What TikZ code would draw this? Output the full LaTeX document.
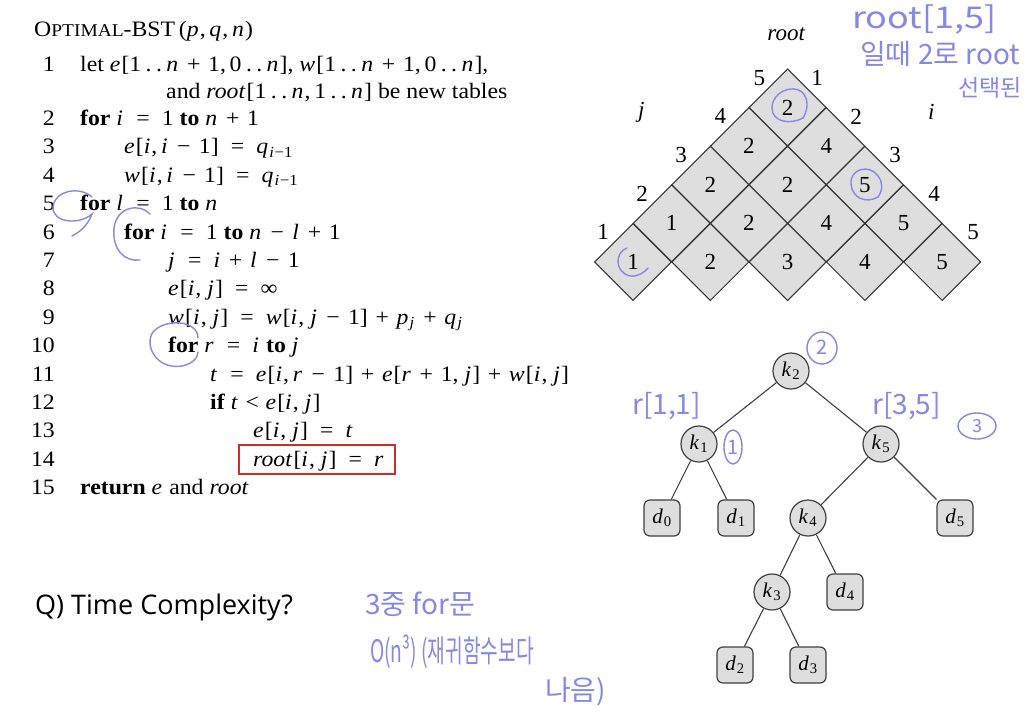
\documentclass[tikz,border=0pt]{standalone}
\usepackage{fontspec}
\setmainfont{Liberation Serif}
\newfontfamily\codefont{Liberation Serif}[FakeStretch=1.08]
\newfontfamily\qfont{Open Sans}
\newfontfamily\kfont{Noto Sans CJK KR}
\usetikzlibrary{shapes.geometric}
\definecolor{pen}{RGB}{135,135,228}
\definecolor{cellgray}{RGB}{222,222,222}
\definecolor{boxred}{RGB}{205,45,45}
\newcommand{\kw}[1]{\textbf{#1}}
\newcommand{\mv}[1]{\textit{#1}\/\kern0.05em\relax}
\newcommand{\dts}{\hspace{0.2em}.\hspace{0.2em}.\hspace{0.2em}}
\newcommand{\eq}{\hspace{0.55em}=\hspace{0.55em}}
\newcommand{\mns}{\hspace{0.38em}−\hspace{0.38em}}
\newcommand{\pls}{\hspace{0.35em}+\hspace{0.35em}}
\newcommand{\cm}{,\hspace{0.17em}}
\tikzset{
  code/.style={anchor=base west, inner sep=0pt, font=\codefont\fontsize{22}{26}\selectfont},
  lnum/.style={anchor=base east, inner sep=0pt, font=\codefont\fontsize{22}{26}\selectfont},
  cell/.style={diamond, draw=black!80, fill=cellgray, line width=1pt, minimum width=77.3pt, minimum height=77.3pt, inner sep=0pt, font=\fontsize{23}{26}\selectfont},
  tlab/.style={inner sep=0pt, font=\fontsize{23}{26}\selectfont},
  knode/.style={circle, draw=black!75, fill=cellgray, line width=1.2pt, minimum size=36pt, inner sep=0pt, font=\fontsize{21}{24}\selectfont},
  dnode/.style={rectangle, rounded corners=6pt, draw=black!75, fill=cellgray, line width=1.2pt, minimum size=36pt, inner sep=0pt, font=\fontsize{21}{24}\selectfont},
  edge/.style={draw=black!75, line width=1.1pt},
  pen/.style={draw=pen, line width=1.4pt, line cap=round},
  hand/.style={text=pen, inner sep=0pt, anchor=base west, font=\kfont\fontsize{28}{30}\selectfont},
}
\begin{document}
\begin{tikzpicture}[x=1pt,y=-1pt]
\useasboundingbox (0,0) rectangle (1031,712);
\fill[white] (0,0) rectangle (1031,712);

% ---------- pseudocode ----------
\node[code] (title) at (34,36) {O{\fontsize{18}{20}\selectfont PTIMAL}-BST\,(\mv{p}\cm\mv{q}\cm\mv{n})};
\node[lnum] (n1) at (55,71.5) {1};
\node[code] (c1) at (80,71.5) {let \mv{e}[1\dts\mv{n}\pls1\cm0\dts\mv{n}], \mv{w}[1\dts\mv{n}\pls1\cm0\dts\mv{n}],};
\node[code] (c1b) at (166,98.5) {and \mv{root}[1\dts\mv{n}\cm1\dts\mv{n}] be new tables};
\node[lnum] (n2) at (55,125.5) {2};
\node[code] (c2) at (80,125.5) {\kw{for} \mv{i}\eq1 \kw{to} \mv{n}\pls1};
\node[lnum] (n3) at (55,153.9) {3};
\node[code] (c3) at (124,153.9) {\mv{e}[\mv{i}\cm\mv{i}\mns1]\eq\mv{q}\textsubscript{\mv{i}−1}};
\node[lnum] (n4) at (55,182.3) {4};
\node[code] (c4) at (124,182.3) {\mv{w}[\mv{i}\cm\mv{i}\mns1]\eq\mv{q}\textsubscript{\mv{i}−1}};
\node[lnum] (n5) at (55,210.7) {5};
\node[code] (c5) at (80,210.7) {\kw{for} \mv{l}\eq1 \kw{to} \mv{n}};
\node[lnum] (n6) at (55,239.1) {6};
\node[code] (c6) at (124,239.1) {\kw{for} \mv{i}\eq1 \kw{to} \mv{n}\mns\mv{l}\pls1};
\node[lnum] (n7) at (55,267.5) {7};
\node[code] (c7) at (168,267.5) {\mv{j}\eq\mv{i}\pls\mv{l}\mns1};
\node[lnum] (n8) at (55,295.9) {8};
\node[code] (c8) at (168,295.9) {\mv{e}[\mv{i}, \mv{j}]\eq∞};
\node[lnum] (n9) at (55,324.3) {9};
\node[code] (c9) at (168,324.3) {\mv{w}[\mv{i}, \mv{j}]\eq\mv{w}[\mv{i}, \mv{j}\mns1]\pls\mv{p}\textsubscript{\mv{j}}\pls\mv{q}\textsubscript{\mv{j}}};
\node[lnum] (n10) at (55,352.7) {10};
\node[code] (c10) at (168,352.7) {\kw{for} \mv{r}\eq\mv{i} \kw{to} \mv{j}};
\node[lnum] (n11) at (55,381.1) {11};
\node[code] (c11) at (210,381.1) {\mv{t}\eq\mv{e}[\mv{i}\cm\mv{r}\mns1]\pls\mv{e}[\mv{r}\pls1, \mv{j}]\pls\mv{w}[\mv{i}, \mv{j}]};
\node[lnum] (n12) at (55,409.5) {12};
\node[code] (c12) at (210,409.5) {\kw{if} \mv{t}\hspace{0.3em}<\hspace{0.3em}\mv{e}[\mv{i}, \mv{j}]};
\node[lnum] (n13) at (55,437.9) {13};
\node[code] (c13) at (253,437.9) {\mv{e}[\mv{i}, \mv{j}]\eq\mv{t}};
\node[lnum] (n14) at (55,466.3) {14};
\node[code] (c14) at (253,466.3) {\mv{root}[\mv{i}, \mv{j}]\eq\mv{r}};
\node[lnum] (n15) at (55,494.7) {15};
\node[code] (c15) at (80,494.7) {\kw{return} \mv{e} and \mv{root}};
\draw[boxred, line width=2.5pt] (239,445) rectangle (395,474);

% pen marks on code
\draw[pen] (92,197) .. controls (80,186) and (55,190) .. (53,207) .. controls (52,222) and (78,226) .. (92,214) .. controls (88,225) and (80,232) .. (72,236);
\draw[pen] (150,214) .. controls (140,203) and (117,206) .. (114,228) .. controls (112,250) and (125,262) .. (140,260);
\draw[pen] (198,338) .. controls (198,320) and (165,318) .. (153,332) .. controls (144,345) and (156,370) .. (182,366) .. controls (192,364) and (198,358) .. (198,352);

% ---------- root table ----------
\node[tlab] (rootlab) at (787,34) {\mv{root}};
\node[tlab] (jlab) at (642,112) {\mv{j}};
\node[tlab] (ilab) at (932,112) {\mv{i}};
\foreach \i/\l/\v in {1/1/1,2/1/2,3/1/3,4/1/4,5/1/5,1/2/1,2/2/2,3/2/4,4/2/5,1/3/2,2/3/2,3/3/5,1/4/2,2/4/4,1/5/2}{
  \node[cell] (c\i-\l) at ({633+(\i-1)*77.3+(\l-1)*38.65},{262-(\l-1)*38.65}) {\v};
}
\foreach \k in {1,...,5}{
  \node[tlab] (jn\k) at ({603+(\k-1)*39.1},{232-(\k-1)*38.6}) {\k};
  \node[tlab] (in\k) at ({817+(\k-1)*39},{78+(\k-1)*38.6}) {\k};
}
\draw[pen] (802,92) .. controls (792,84) and (772,92) .. (772,108) .. controls (772,122) and (790,125) .. (803,118) .. controls (809,108) and (808,98) .. (802,92);
\draw[pen] (878,176) .. controls (870,164) and (850,168) .. (851,184) .. controls (852,198) and (866,204) .. (878,197) .. controls (883,190) and (883,182) .. (878,176);
\draw[pen] (627,248) .. controls (615,252) and (614,272) .. (630,276) .. controls (638,277) and (645,272) .. (648,268);

% ---------- tree ----------
\node[knode] (k2) at (791,371) {\mv{k}\textsubscript{2}};
\node[knode] (k1) at (699,444) {\mv{k}\textsubscript{1}};
\node[knode] (k5) at (881,444) {\mv{k}\textsubscript{5}};
\node[dnode] (d0) at (662,518) {\mv{d}\textsubscript{0}};
\node[dnode] (d1) at (736,518) {\mv{d}\textsubscript{1}};
\node[knode] (k4) at (808,518) {\mv{k}\textsubscript{4}};
\node[dnode] (d5) at (955,518) {\mv{d}\textsubscript{5}};
\node[knode] (k3) at (772,592) {\mv{k}\textsubscript{3}};
\node[dnode] (d4) at (845,592) {\mv{d}\textsubscript{4}};
\node[dnode] (d2) at (735,665) {\mv{d}\textsubscript{2}};
\node[dnode] (d3) at (808,665) {\mv{d}\textsubscript{3}};
\draw[edge] (k2) -- (k1);
\draw[edge] (k2) -- (k5);
\draw[edge] (k1) -- (d0);
\draw[edge] (k1) -- (d1);
\draw[edge] (k5) -- (k4);
\draw[edge] (k5) -- (d5);
\draw[edge] (k4) -- (k3);
\draw[edge] (k4) -- (d4);
\draw[edge] (k3) -- (d2);
\draw[edge] (k3) -- (d3);

% pen marks on tree
\draw[pen] (822,348) ellipse (15 and 16);
\node[hand, anchor=center, font=\kfont\fontsize{20}{22}\selectfont] (h2) at (822,347) {2};
\node[hand, font=\kfont\fontsize{28}{30}\selectfont] (hr11) at (632,414) {r[1,1]};
\draw[pen] (733,447) ellipse (9 and 17);
\node[hand, anchor=center, font=\kfont\fontsize{20}{22}\selectfont] (h1) at (733,447) {1};
\node[hand, font=\kfont\fontsize{28}{30}\selectfont] (hr35) at (872,414) {r[3,5]};
\draw[pen] (977,426) ellipse (19 and 13);
\node[hand, anchor=center, font=\kfont\fontsize{18}{20}\selectfont] (h3) at (977,426) {3};

% ---------- question ----------
\node[anchor=base west, inner sep=0pt, font=\qfont\fontsize{27}{30}\selectfont] (q) at (35,614) {Q) Time Complexity?};
\node[hand] (hb1) at (365,614) {3중 for문};
\node[hand, font=\kfont\fontsize{31}{33}\selectfont] (hb2) at (370,662) {\scalebox{0.62}[1]{O(n³) (재귀함수보다}};
\node[hand] (hb3) at (545,700) {나음)};

% ---------- top-right note ----------
\node[hand, font=\kfont\fontsize{30}{32}\selectfont] (ht1) at (852,28) {\scalebox{1.2}[1]{root[1,5]}};
\node[hand] (ht2) at (860,64) {일때 2로 root};
\node[hand, font=\kfont\fontsize{23}{25}\selectfont] (ht3) at (958,96) {선택된};
\end{tikzpicture}
\end{document}
